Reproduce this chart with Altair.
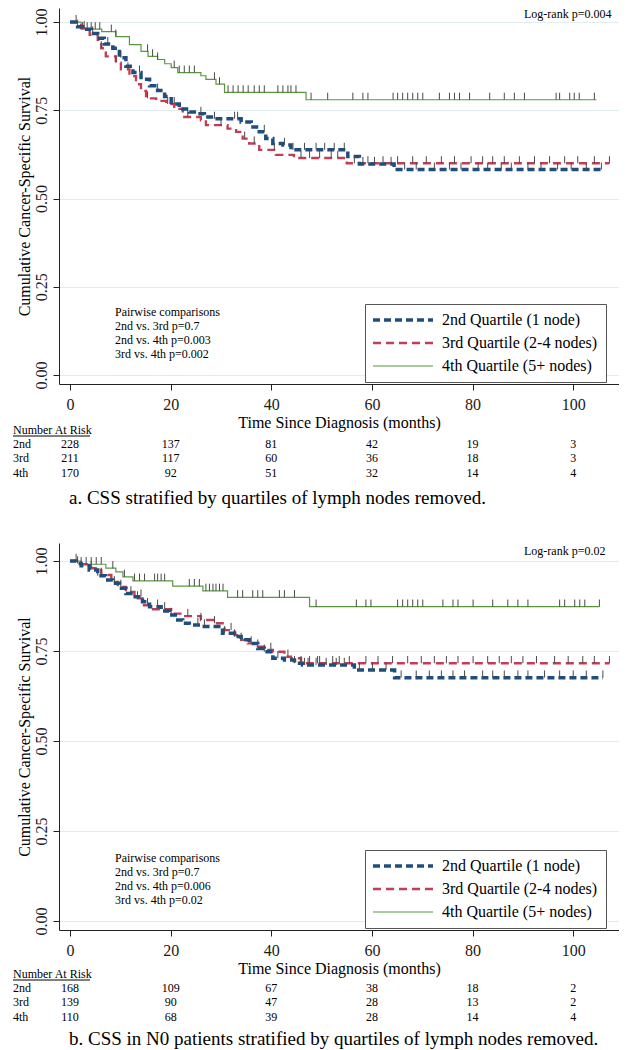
import altair as alt
import pandas as pd

FONT = "Liberation Serif"

GROUPS = ["2nd Quartile (1 node)", "3rd Quartile (2-4 nodes)", "4th Quartile (5+ nodes)"]
ROW_LABELS = ["2nd", "3rd", "4th"]
COLORS = ["#1f4e7e", "#c43c55", "#5a9640"]
DASHES = [[7, 4], [8, 5], [1, 0]]
WIDTHS = [3.5, 1.2, 1.4]
X_TICKS = [0, 20, 40, 60, 80, 100]
Y_TICKS = [0, 0.25, 0.5, 0.75, 1.0]
RISK_TIMES = [0, 20, 40, 60, 80, 100]

# ---------------- panel a ----------------
A_T2 = [0, 1.5, 2.5, 4.2, 5.5, 6.8, 8.5, 9.8, 11.1, 12.5, 14.1, 15.8, 17.4, 18.8, 20.1, 21.7,
        23.7, 25.4, 26.7, 28.7, 34.0, 36.0, 37.6, 38.9, 40.3, 42.3, 43.9, 55.2, 57.5, 64.4, 105.6]
A_S2 = [1.0, 0.987, 0.980, 0.968, 0.954, 0.938, 0.926, 0.899, 0.875, 0.857, 0.838, 0.820, 0.806,
        0.789, 0.768, 0.754, 0.745, 0.740, 0.731, 0.726, 0.717, 0.703, 0.689, 0.670, 0.656, 0.652,
        0.638, 0.619, 0.598, 0.582, 0.582]
A_T3 = [0, 2.2, 3.9, 5.5, 6.2, 7.1, 9.1, 10.1, 11.8, 13.1, 14.1, 15.1, 17.1, 19.1, 20.7, 22.4,
        26.0, 27.0, 31.3, 33.0, 34.3, 35.6, 37.6, 40.9, 44.5, 55.0, 107.2]
A_S3 = [1.0, 0.983, 0.964, 0.950, 0.926, 0.903, 0.885, 0.866, 0.847, 0.824, 0.805, 0.784, 0.777,
        0.768, 0.754, 0.731, 0.722, 0.708, 0.698, 0.689, 0.670, 0.656, 0.638, 0.624, 0.615, 0.600, 0.600]
A_T4 = [0, 2.2, 6.3, 9.1, 11.8, 14.1, 15.5, 17.4, 18.8, 20.1, 21.4, 26.0, 27.0, 29.0, 30.7, 46.9, 104.6]
A_S4 = [1.0, 0.980, 0.973, 0.959, 0.936, 0.917, 0.903, 0.894, 0.882, 0.871, 0.857, 0.848, 0.838,
        0.824, 0.801, 0.780, 0.780]
A_C2 = [1.5, 4.5, 7.5, 10.1, 13.8, 17.4, 20.7, 26.0, 28.7, 32.7, 33.3, 38.6, 42.6, 44.3, 46.6, 48.9,
        50.6, 52.5, 54.5, 58.2, 60.5, 63.8, 66.5, 68.8, 72.4, 75.4, 77.7, 81.1, 83.0, 85.7, 87.7,
        91.0, 93.6, 96.9, 99.6, 102.6, 105.6]
A_C3 = [2.8, 6.2, 9.1, 11.5, 15.4, 19.4, 23.4, 30.0, 34.7, 36.6, 40.6, 45.9, 47.6, 49.6, 51.9, 53.2,
        56.5, 59.2, 62.2, 65.1, 68.1, 70.8, 73.8, 76.4, 79.7, 82.0, 84.0, 86.3, 89.3, 92.3, 95.3,
        98.3, 100.9, 104.2, 107.2]
A_C4 = [1.2, 2.5, 3.4, 4.2, 5.0, 5.9, 8.2, 9.1, 15.4, 16.4, 17.4, 20.7, 21.7, 22.7, 23.7, 24.7, 28.7,
        29.7, 31.4, 32.4, 33.4, 34.4, 35.4, 36.6, 37.6, 38.6, 41.3, 42.3, 43.3, 43.9, 44.9, 47.9,
        51.2, 56.2, 58.2, 59.2, 64.2, 65.1, 66.1, 67.1, 68.1, 69.1, 70.1, 73.4, 75.4, 76.4, 77.4,
        79.4, 83.4, 86.3, 88.3, 90.3, 96.6, 97.3, 99.3, 100.2, 101.2, 104.2]
A_RISK = [[228, 137, 81, 42, 19, 3], [211, 117, 60, 36, 18, 3], [170, 92, 51, 32, 14, 4]]
A_LOGRANK = "Log-rank p=0.004"
A_PAIRS = ["Pairwise comparisons", "2nd vs. 3rd p=0.7", "2nd vs. 4th p=0.003", "3rd vs. 4th p=0.002"]
A_CAPTION = "a. CSS stratified by quartiles of lymph nodes removed."

# ---------------- panel b ----------------
B_T2 = [0, 1.2, 2.2, 3.8, 5.5, 7.1, 8.5, 9.8, 11.1, 12.5, 14.4, 15.8, 18.1, 19.7, 21.4, 22.4, 23.7,
        26.0, 30.3, 32.7, 34.0, 35.6, 37.3, 38.6, 40.3, 42.6, 44.6, 46.2, 56.5, 64.5, 105.9]
B_S2 = [1.0, 0.993, 0.987, 0.975, 0.959, 0.947, 0.938, 0.924, 0.910, 0.901, 0.887, 0.873, 0.861,
        0.850, 0.836, 0.827, 0.822, 0.818, 0.799, 0.790, 0.781, 0.771, 0.757, 0.748, 0.730, 0.725,
        0.716, 0.711, 0.697, 0.676, 0.676]
B_T3 = [0, 2.2, 4.2, 6.2, 8.2, 9.5, 11.1, 12.8, 14.4, 16.1, 20.1, 22.4, 26.0, 28.7, 30.7, 32.7, 34.0,
        35.3, 37.3, 38.6, 40.3, 42.6, 43.9, 45.9, 107.2]
B_S3 = [1.0, 0.991, 0.980, 0.961, 0.942, 0.928, 0.914, 0.896, 0.877, 0.866, 0.854, 0.847, 0.836,
        0.827, 0.808, 0.794, 0.781, 0.771, 0.762, 0.753, 0.748, 0.734, 0.730, 0.716, 0.716]
B_T4 = [0, 2.2, 7.1, 9.1, 10.5, 12.5, 20.4, 26.4, 31.3, 47.6, 105.2]
B_S4 = [1.0, 0.991, 0.980, 0.970, 0.956, 0.945, 0.930, 0.917, 0.899, 0.873, 0.873]
B_C2 = [1.5, 5.5, 8.8, 12.1, 14.1, 17.4, 20.1, 25.4, 26.7, 30.7, 32.7, 36.0, 38.6, 41.3, 44.6, 46.6,
        47.3, 48.9, 50.9, 52.9, 54.5, 57.5, 60.1, 62.8, 65.8, 68.8, 71.4, 73.8, 76.1, 78.4, 82.0,
        84.0, 86.3, 89.0, 91.0, 94.3, 97.3, 100.0, 102.6, 105.9]
B_C3 = [4.2, 6.2, 10.1, 13.4, 15.4, 18.8, 23.4, 26.0, 28.7, 32.0, 34.0, 37.3, 39.9, 43.3, 45.9, 47.6,
        49.2, 49.6, 52.2, 53.5, 55.5, 58.8, 61.2, 64.1, 67.1, 69.8, 72.4, 74.8, 77.1, 80.1, 83.0,
        85.3, 87.7, 90.0, 92.7, 96.3, 99.0, 101.9, 104.2, 107.2]
B_C4 = [1.2, 2.2, 3.2, 4.2, 5.2, 6.2, 8.5, 10.8, 12.8, 13.8, 14.8, 16.8, 17.4, 18.1, 18.8, 23.7, 24.7,
        25.7, 27.0, 27.7, 28.4, 29.0, 29.7, 30.4, 33.3, 34.3, 36.3, 37.3, 38.3, 41.6, 42.6, 44.6,
        48.9, 56.9, 58.8, 59.8, 65.1, 66.1, 67.1, 68.1, 69.1, 70.1, 74.1, 76.1, 77.1, 80.1, 84.0,
        87.0, 89.0, 91.0, 97.3, 98.3, 100.3, 101.3, 102.3, 105.2]
B_RISK = [[168, 109, 67, 38, 18, 2], [139, 90, 47, 28, 13, 2], [110, 68, 39, 28, 14, 4]]
B_LOGRANK = "Log-rank p=0.02"
B_PAIRS = ["Pairwise comparisons", "2nd vs. 3rd p=0.7", "2nd vs. 4th p=0.006", "3rd vs. 4th p=0.02"]
B_CAPTION = "b. CSS in N0 patients stratified by quartiles of lymph nodes removed."

RISK_HEADER = "Number At Risk"
X_TITLE = "Time Since Diagnosis (months)"
Y_TITLE = "Cumulative Cancer-Specific Survival"


def step_at(times, surv, t):
    v = surv[0]
    for ti, si in zip(times, surv):
        if ti <= t:
            v = si
    return v


def panel(curves, censors, risk, logrank, pairs, caption, H, ydom, lr_y, risk_y, cap_y):
    W = 560
    one = pd.DataFrame({"k": [0]})
    xs = alt.Scale(domain=[-2.2, 109.1], nice=False, zero=False)
    ys = alt.Scale(domain=ydom, nice=False, zero=False)
    xa = alt.Axis(values=X_TICKS, title=X_TITLE, grid=False)
    ya = alt.Axis(values=Y_TICKS, title=Y_TITLE, format=".2f", grid=True)
    leg = alt.Legend(orient="none", legendX=306, legendY=H - 80, title=None,
                     fillColor="white", strokeColor="#555555", padding=8, rowPadding=7,
                     labelFont=FONT, labelFontSize=16, labelColor="black",
                     symbolType="M-5,0H5", symbolSize=144, symbolOffset=22, labelOffset=31)
    enc = dict(
        x=alt.X("t:Q", scale=xs, axis=xa),
        y=alt.Y("s:Q", scale=ys, axis=ya),
        color=alt.Color("group:N", scale=alt.Scale(domain=GROUPS, range=COLORS), legend=leg),
        strokeDash=alt.StrokeDash("group:N", scale=alt.Scale(domain=GROUPS, range=DASHES), legend=leg),
        strokeWidth=alt.StrokeWidth("group:N", scale=alt.Scale(domain=GROUPS, range=WIDTHS), legend=leg),
    )
    layers = []
    for i in [2, 1, 0]:
        times, surv = curves[i]
        df = pd.DataFrame({"t": times, "s": surv, "group": GROUPS[i]})
        layers.append(alt.Chart(df).mark_line(interpolate="step-after").encode(**enc))

    rows = []
    for i in range(3):
        times, surv = curves[i]
        for c in censors[i]:
            rows.append({"t": c, "s": step_at(times, surv, c)})
    cdf = pd.DataFrame(rows)
    layers.append(
        alt.Chart(cdf).mark_rule(color="#4a4a4a", strokeWidth=1)
        .transform_calculate(s2="datum.s + 0.02")
        .encode(x=alt.X("t:Q", scale=xs, axis=xa), y=alt.Y("s:Q", scale=ys, axis=ya), y2="s2:Q")
    )

    layers.append(
        alt.Chart(one).mark_text(text=logrank, font=FONT, fontSize=12, align="left",
                                 baseline="middle", color="black")
        .encode(x=alt.value(465), y=alt.value(lr_y))
    )
    layers.append(
        alt.Chart(one).mark_text(text=pairs, font=FONT, fontSize=12, align="left",
                                 baseline="top", lineHeight=14, color="black")
        .encode(x=alt.value(56), y=alt.value(H - 77))
    )
    layers.append(
        alt.Chart(one).mark_text(text=RISK_HEADER, font=FONT, fontSize=12, align="left",
                                 baseline="middle", color="black")
        .encode(x=alt.value(-46), y=alt.value(H + risk_y - 14))
    )
    layers.append(
        alt.Chart(one).mark_rule(color="black", strokeWidth=1)
        .encode(x=alt.value(-46), x2=alt.value(31), y=alt.value(H + risk_y - 8), y2=alt.value(H + risk_y - 8))
    )
    rdf = pd.DataFrame([{"row": r, "t": RISK_TIMES[j], "n": risk[r][j]}
                        for r in range(3) for j in range(len(RISK_TIMES))])
    for r in range(3):
        yv = H + risk_y + 14.3 * r
        layers.append(
            alt.Chart(one).mark_text(text=ROW_LABELS[r], font=FONT, fontSize=12, align="left",
                                     baseline="middle", color="black")
            .encode(x=alt.value(-46), y=alt.value(yv))
        )
        layers.append(
            alt.Chart(rdf[rdf.row == r]).mark_text(font=FONT, fontSize=12, align="center",
                                                   baseline="middle", color="black")
            .encode(x=alt.X("t:Q", scale=xs, axis=xa), y=alt.value(yv), text="n:Q")
        )
    layers.append(
        alt.Chart(one).mark_text(text=caption, font=FONT, fontSize=19, align="left",
                                 baseline="middle", color="black")
        .encode(x=alt.value(10), y=alt.value(H + cap_y))
    )
    return alt.layer(*layers).properties(width=W, height=H)


pa = panel([(A_T2, A_S2), (A_T3, A_S3), (A_T4, A_S4)], [A_C2, A_C3, A_C4], A_RISK,
           A_LOGRANK, A_PAIRS, A_CAPTION, 376, [-0.0255, 1.04], 6, 60, 114)
pb = panel([(B_T2, B_S2), (B_T3, B_S3), (B_T4, B_S4)], [B_C2, B_C3, B_C4], B_RISK,
           B_LOGRANK, B_PAIRS, B_CAPTION, 387, [-0.025, 1.05], 8, 58, 109)

chart = (
    alt.vconcat(pa, pb, spacing=35)
    .resolve_scale(x="independent", y="independent", color="independent",
                   strokeDash="independent", strokeWidth="independent")
    .resolve_legend(color="independent", strokeDash="independent", strokeWidth="independent")
    .properties(padding={"left": 4, "top": 0, "right": 0, "bottom": 0}, background="white")
    .configure_view(stroke=None)
    .configure_axis(labelFont=FONT, titleFont=FONT, labelFontSize=16, titleFontSize=16,
                    labelColor="#1a1a1a", titleColor="black", titleFontWeight="normal",
                    domainColor="#222222", tickColor="#222222", gridColor="#e2edf0",
                    tickSize=6)
    .configure_axisX(labelPadding=6, titlePadding=2)
    .configure_axisY(labelAngle=270, labelAlign="center", labelBaseline="bottom",
                     labelPadding=4, titlePadding=1)
)

chart.save("out.html", embed_options={"renderer": "svg", "actions": False})
